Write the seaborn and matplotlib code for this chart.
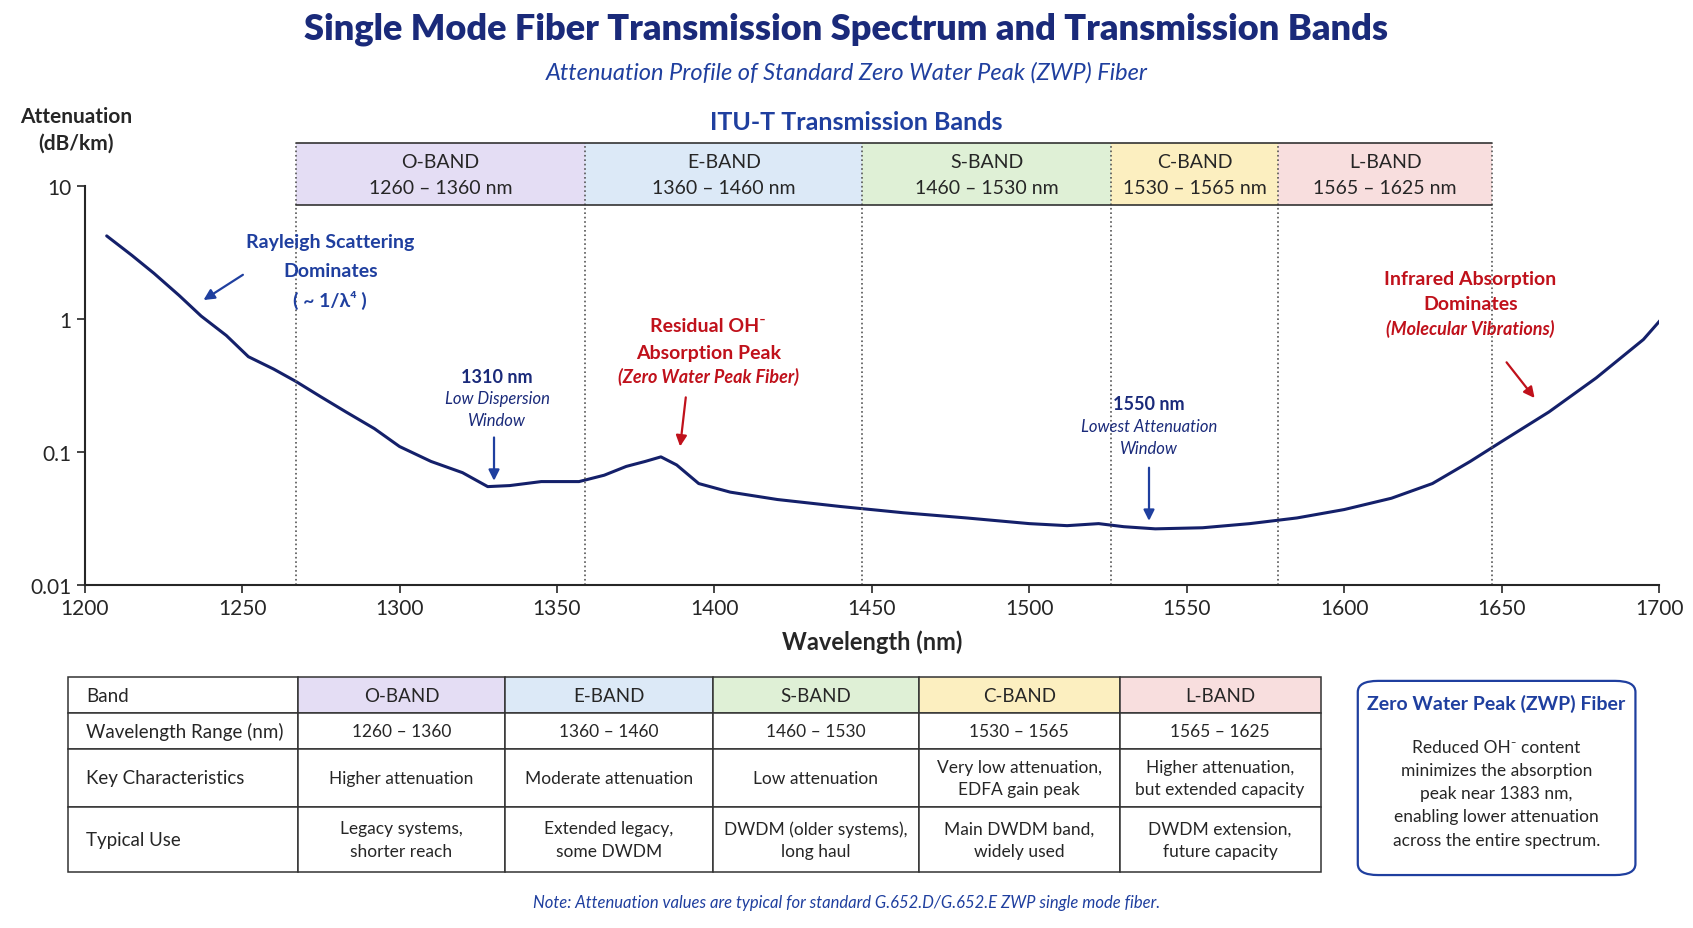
import numpy as np
import matplotlib.pyplot as plt
import seaborn as sns
from matplotlib.patches import FancyBboxPatch, Rectangle

wavelength = [1207, 1215, 1222, 1230, 1237, 1245, 1252, 1260, 1267, 1275, 1283, 1292, 1300, 1310,
              1320, 1328, 1335, 1345, 1357, 1365, 1372, 1378, 1383, 1388, 1395, 1405, 1420, 1440,
              1460, 1480, 1500, 1512, 1522, 1530, 1540, 1555, 1570, 1585, 1600, 1615, 1628, 1640,
              1650, 1665, 1680, 1695, 1703]
attenuation = [4.2, 3.0, 2.2, 1.5, 1.05, 0.75, 0.52, 0.42, 0.34, 0.26, 0.2, 0.15, 0.11, 0.085,
               0.07, 0.055, 0.056, 0.06, 0.06, 0.067, 0.078, 0.085, 0.092, 0.08, 0.058, 0.05, 0.044, 0.039,
               0.035, 0.032, 0.029, 0.028, 0.029, 0.0275, 0.0265, 0.027, 0.029, 0.032, 0.037, 0.045, 0.058, 0.085,
               0.12, 0.2, 0.36, 0.7, 1.15]

band_names = ["O-BAND", "E-BAND", "S-BAND", "C-BAND", "L-BAND"]
band_ranges = ["1260 – 1360 nm", "1360 – 1460 nm", "1460 – 1530 nm", "1530 – 1565 nm", "1565 – 1625 nm"]
band_edges = [1267, 1359, 1447, 1526, 1579, 1647]  # as drawn on the reference axis
band_colors = ["#e4ddf4", "#dce9f7", "#dff0d6", "#fcefc0", "#f8dede"]

table_rows = [
    ["Band"] + band_names,
    ["Wavelength Range (nm)", "1260 – 1360", "1360 – 1460", "1460 – 1530", "1530 – 1565", "1565 – 1625"],
    ["Key Characteristics", "Higher attenuation", "Moderate attenuation", "Low attenuation",
     "Very low attenuation,\nEDFA gain peak", "Higher attenuation,\nbut extended capacity"],
    ["Typical Use", "Legacy systems,\nshorter reach", "Extended legacy,\nsome DWDM",
     "DWDM (older systems),\nlong haul", "Main DWDM band,\nwidely used", "DWDM extension,\nfuture capacity"],
]

navy = "#1a2a7a"
blue = "#1f3f9f"
red = "#c0111b"

sns.set_style("white")
plt.rcParams["font.family"] = ["Lato", "DejaVu Sans"]

fig = plt.figure(figsize=(16.93, 9.29), dpi=100)
fig.text(0.5, 0.968, "Single Mode Fiber Transmission Spectrum and Transmission Bands",
         ha="center", va="center", fontsize=26, fontweight="heavy", color=navy)
fig.text(0.5, 0.922, "Attenuation Profile of Standard Zero Water Peak (ZWP) Fiber",
         ha="center", va="center", fontsize=17, style="italic", color=blue)

ax = fig.add_axes([0.05, 0.369, 0.93, 0.43])
sns.lineplot(x=wavelength, y=attenuation, ax=ax, color="#14206a", linewidth=2.2)
ax.set_yscale("log")
ax.set_ylim(0.01, 10)
ax.set_xlim(1200, 1700)
ax.set_yticks([0.01, 0.1, 1, 10])
ax.set_yticklabels(["0.01", "0.1", "1", "10"])
ax.set_xticks(range(1200, 1701, 50))
ax.minorticks_off()
ax.tick_params(labelsize=15, length=6, width=1.2, direction="out", left=True, bottom=True)
for s in ["top", "right"]:
    ax.spines[s].set_visible(False)
for s in ["left", "bottom"]:
    ax.spines[s].set_linewidth(1.5)
ax.set_xlabel("Wavelength (nm)", fontsize=17, fontweight="bold", labelpad=8)
fig.text(0.045, 0.86, "Attenuation\n(dB/km)", ha="center", va="center",
         fontsize=15, fontweight="bold", linespacing=1.4)

trans = ax.get_xaxis_transform()
for x in band_edges:
    ax.plot([x, x], [0, 1.106], transform=trans, ls=":", color="#555555", lw=1.2, clip_on=False)
for i, name in enumerate(band_names):
    x0, x1 = band_edges[i], band_edges[i + 1]
    ax.add_patch(Rectangle((x0, 0.951), x1 - x0, 0.155, transform=trans, facecolor=band_colors[i],
                           edgecolor="none", clip_on=False))
    ax.text((x0 + x1) / 2, 1.06, name, transform=trans, ha="center", va="center", fontsize=14)
    ax.text((x0 + x1) / 2, 0.995, band_ranges[i], transform=trans, ha="center", va="center", fontsize=14)
ax.plot([band_edges[0], band_edges[-1]], [1.106, 1.106], transform=trans, color="#333333", lw=1.2, clip_on=False)
ax.plot([band_edges[0], band_edges[-1]], [0.951, 0.951], transform=trans, color="#333333", lw=1.2, clip_on=False)
ax.text(1445, 1.16, "ITU-T Transmission Bands", transform=trans, ha="center", va="center",
        fontsize=18, fontweight="bold", color=blue)


def label(x, y, s, color, size=13, bold=True, italic=False):
    ax.text(x, y, s, ha="center", va="center", fontsize=size, color=color,
            fontweight="bold" if bold else "normal", style="italic" if italic else "normal")


def arrow(x0, y0, x1, y1, color):
    ax.annotate("", xy=(x1, y1), xytext=(x0, y0),
                arrowprops=dict(arrowstyle="-|>", color=color, lw=1.6, mutation_scale=16))


label(1278, 3.8, "Rayleigh Scattering", blue, 14)
label(1278, 2.3, "Dominates", blue, 14)
label(1278, 1.4, "( ~ 1/λ⁴ )", blue, 14)
arrow(1251, 2.2, 1237, 1.35, blue)

label(1331, 0.37, "1310 nm", navy, 13)
label(1331, 0.255, "Low Dispersion", navy, 12, bold=False, italic=True)
label(1331, 0.175, "Window", navy, 12, bold=False, italic=True)
arrow(1330, 0.135, 1330, 0.058, blue)

label(1398, 0.89, "Residual OH⁻", red, 14)
label(1398, 0.56, "Absorption Peak", red, 14)
label(1398, 0.37, "(Zero Water Peak Fiber)", red, 13, italic=True)
arrow(1391, 0.27, 1389, 0.105, red)

label(1538, 0.23, "1550 nm", navy, 13)
label(1538, 0.158, "Lowest Attenuation", navy, 12, bold=False, italic=True)
label(1538, 0.108, "Window", navy, 12, bold=False, italic=True)
arrow(1538, 0.08, 1538, 0.029, blue)

label(1640, 2.0, "Infrared Absorption", red, 14)
label(1640, 1.3, "Dominates", red, 14)
label(1640, 0.85, "(Molecular Vibrations)", red, 13, italic=True)
arrow(1651, 0.49, 1661, 0.245, red)

# table
tax = fig.add_axes([0.040, 0.060, 0.740, 0.210])
tax.axis("off")
col_w = np.array([212, 191, 191, 190, 185, 185], dtype=float)
col_w = col_w / col_w.sum()
tbl = tax.table(cellText=table_rows, colWidths=col_w, loc="upper center", bbox=[0, 0, 1, 1],
                cellLoc="center")
tbl.auto_set_font_size(False)
row_h = np.array([33, 33, 54, 60], dtype=float)
row_h = row_h / row_h.sum()
for (r, c), cell in tbl.get_celld().items():
    cell.set_height(row_h[r])
    cell.set_edgecolor("#333333")
    cell.set_linewidth(1.1)
    cell.get_text().set_fontsize(13.5 if c == 0 or r == 0 else 12.5)
    cell.get_text().set_linespacing(1.5)
    if c == 0:
        cell.get_text().set_ha("left")
        cell._loc = "left"
        cell.PAD = 0.08
    if r == 0 and c > 0:
        cell.set_facecolor(band_colors[c - 1])

# ZWP box
fig.patches.append(FancyBboxPatch((0.802, 0.057), 0.164, 0.209, boxstyle="round,pad=0,rounding_size=0.012",
                                  transform=fig.transFigure, facecolor="white", edgecolor=blue, lw=1.6))
fig.text(0.884, 0.242, "Zero Water Peak (ZWP) Fiber", ha="center", va="center", fontsize=14,
         fontweight="bold", color=blue)
fig.text(0.884, 0.145, "Reduced OH⁻ content\nminimizes the absorption\npeak near 1383 nm,\n"
         "enabling lower attenuation\nacross the entire spectrum.", ha="center", va="center",
         fontsize=12.5, linespacing=1.55)
fig.text(0.5, 0.028, "Note: Attenuation values are typical for standard G.652.D/G.652.E ZWP single mode fiber.",
         ha="center", va="center", fontsize=12, style="italic", color=blue)

fig.savefig("out.png", dpi=100)
